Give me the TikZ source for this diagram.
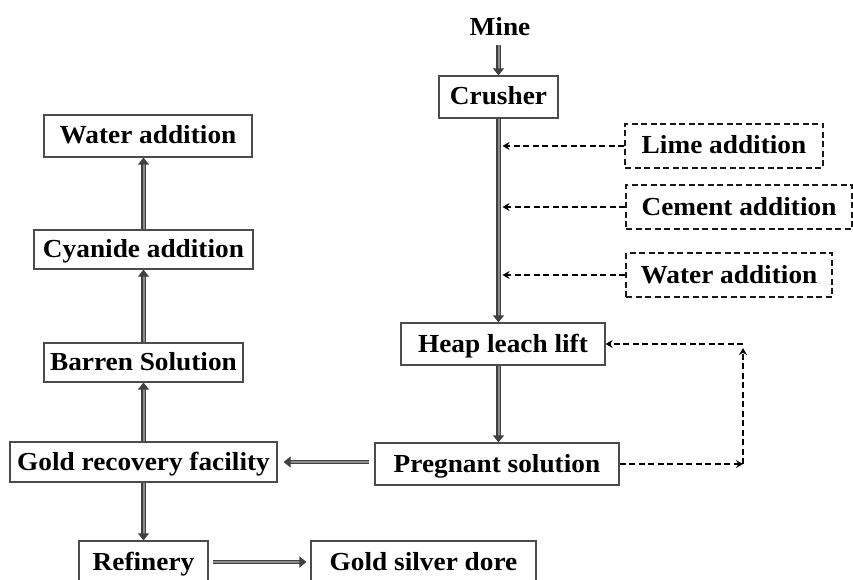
\documentclass[tikz,border=0pt]{standalone}
\usepackage{fontspec}
\setmainfont{Liberation Serif}[FakeStretch=1.05]
\usetikzlibrary{arrows.meta}
\begin{document}
\begin{tikzpicture}[x=1pt,y=-1pt,
  font=\fontsize{26}{30}\selectfont\bfseries,
  box/.style={draw=black!70, line width=1.2pt, inner sep=0pt, text height=20pt, text depth=4pt, align=center},
  dbox/.style={box, draw=black!90, line width=1.3pt, dash pattern=on 6pt off 3.5pt},
  plain/.style={inner sep=0pt, text height=20pt, text depth=4pt},
  flow/.style={draw=black!75, double=black!45, double distance=2pt, line width=1.2pt, -{Triangle[length=7pt,width=11pt]}},
  dflow/.style={draw=black, line width=1.5pt, dash pattern=on 6pt off 3.5pt, -{Stealth[length=7pt,width=8pt]}}
]
\useasboundingbox (0,0) rectangle (853,580);

% right column
\node[plain] (mine) at (500,28) {Mine};
\node[box, minimum width=119pt, minimum height=42pt] (crusher) at (498.5,97) {Crusher};
\node[dbox, minimum width=198pt, minimum height=44pt] (lime) at (724,146) {Lime addition};
\node[dbox, minimum width=226pt, minimum height=44pt] (cement) at (739,207) {Cement addition};
\node[dbox, minimum width=206pt, minimum height=44pt] (waterR) at (729,275) {Water addition};
\node[box, minimum width=204pt, minimum height=42pt] (heap) at (503,344) {Heap leach lift};
\node[box, minimum width=244pt, minimum height=42pt] (preg) at (497,464) {Pregnant solution};
\coordinate (fbr) at (743,400);

% left column
\node[box, minimum width=208pt, minimum height=42pt] (waterL) at (148,136) {Water addition};
\node[box, minimum width=219pt, minimum height=39pt] (cyan) at (143.5,249.5) {Cyanide addition};
\node[box, minimum width=199pt, minimum height=39pt] (barren) at (143.5,362.5) {Barren Solution};
\node[box, minimum width=267pt, minimum height=40pt] (gold) at (143.5,462) {Gold recovery facility};
\node[box, minimum width=129pt, minimum height=42pt] (refin) at (143.5,562) {Refinery};
\node[box, minimum width=225pt, minimum height=42pt] (dore) at (423.5,562) {Gold silver dore};

% solid flows
\draw[flow, shorten <=5pt] (mine.south -| crusher.north) -- (crusher.north);
\draw[flow] (crusher.south) -- (crusher.south |- heap.north);
\draw[flow] (heap.south -| crusher.south) -- (preg.north -| crusher.south);
\draw[flow, shorten <=5pt, shorten >=6pt] (gold.east -| preg.west) -- (gold.east);
\draw[flow] (gold.north) -- (barren.south);
\draw[flow] (barren.north) -- (cyan.south);
\draw[flow] (cyan.north) -- (cyan.north |- waterL.south);
\draw[flow] (gold.south) -- (refin.north);
\draw[flow, shorten <=4pt, shorten >=4pt] (refin.east) -- (dore.west);

% dashed additions
\draw[dflow, shorten >=4pt] (lime.west) -- (lime.west -| crusher.south);
\draw[dflow, shorten >=4pt] (cement.west) -- (cement.west -| crusher.south);
\draw[dflow, shorten >=4pt] (waterR.west) -- (waterR.west -| crusher.south);

% feedback loop
\draw[dflow] (preg.east) -- (preg.east -| fbr);
\draw[dflow, shorten >=4pt] (preg.east -| fbr) -- (heap.east -| fbr);
\draw[dflow] (heap.east -| fbr) -- (heap.east);
\end{tikzpicture}
\end{document}
